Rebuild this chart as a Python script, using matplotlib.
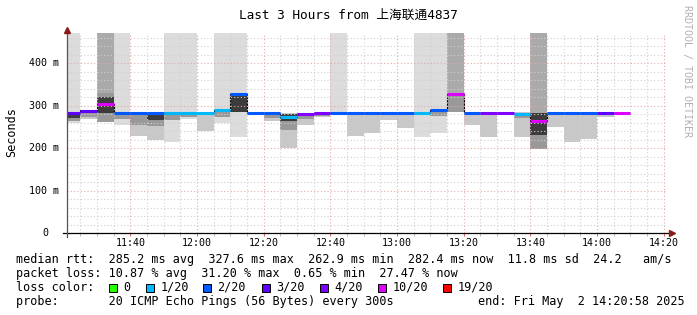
import numpy as np
import matplotlib
matplotlib.use("Agg")
import matplotlib.pyplot as plt
from matplotlib.patches import Rectangle
from matplotlib.ticker import MultipleLocator

MONO = ['DejaVu Sans Mono', 'Noto Sans CJK SC']
plt.rcParams['font.family'] = MONO

W, H = 697, 315
nan = np.nan
inf = np.inf

# time axis in minutes after 11:00, chart covers 11:20:58 .. 14:20:58
t_start = 20 + 58 / 60
t_end = 200 + 58 / 60
bin_end = [25, 30, 35, 40, 45, 50, 55, 60, 65, 70, 75, 80, 85, 90, 95, 100, 105,
           110, 115, 120, 125, 130, 135, 140, 145, 150, 155, 160, 165, 170, 175,
           180, 185, 190]

# median rtt per 5 min step (ms)
median = [282, 287, 303, 283, 283, 283, 282, 282, 282, 289, 328, 282, 282, 274,
          281, 283, 283, 283, 283, 283, 283, 282, 290, 328, 283, 283, 283, 279,
          263, 283, 283, 283, 283, 283]
# lost pings out of 20
lost = [3, 3, 6.2, 2, 2, 2, 1, 1, 1, 1, 2, 2, 2, 1, 4, 4, 2, 2, 2, 2, 2, 1, 2, 5,
        2, 4, 4, 1, 5, 2, 2, 2, 3, 5.5]

# smoke: outer band (inf = lost pings, drawn up to the top)
smoke_lo = [258, 268, 262, 254, 229, 220, 215, 269, 241, 259, 226, 278, 263, 200,
            255, 274, 277, 229, 235, 267, 247, 226, 235, 285, 255, 225, 277, 225,
            197, 250, 215, 221, 274, nan]
smoke_hi = [inf, 290, inf, inf, 284, 284, inf, inf, 283, inf, inf, 283, 283, 282,
            283, 284, inf, 284, 284, 284, 284, inf, inf, inf, 284, 284, 284, 284,
            inf, 284, 284, 284, 284, nan]
# inner band
mid_lo = [263, 272, 262, 268, 255, 252, 265, 272, nan, 272, nan, nan, 270, 243,
          268, 276, nan, nan, nan, nan, nan, nan, 275, 285, nan, nan, nan, 270,
          197, nan, nan, nan, nan, nan]
mid_hi = [284, 290, 329, 283, 283, 283, 283, 283, nan, 289, nan, nan, 282, 281,
          282, 283, nan, nan, nan, nan, nan, nan, 290, 329, nan, nan, nan, 282,
          282, nan, nan, nan, nan, nan]
# dense core
core_lo = [271, 282, 282, nan, nan, 267, nan, nan, nan, 284, 285, nan, nan, 263,
           nan, nan, nan, nan, nan, nan, nan, nan, nan, nan, nan, nan, nan, nan,
           230, nan, nan, nan, nan, nan]
core_hi = [282, 290, 321, nan, nan, 282, nan, nan, nan, 290, 327, nan, nan, 281,
           nan, nan, nan, nan, nan, nan, nan, nan, nan, nan, nan, nan, nan, nan,
           282, nan, nan, nan, nan, nan]

loss_thresh = [0, 1, 2, 3, 4, 10, 19]
loss_labels = ['0', '1/20', '2/20', '3/20', '4/20', '10/20', '19/20']
loss_colors = ['#26ff00', '#00b8ff', '#0059ff', '#5e00ff', '#7e00ff', '#dd00ff', '#ff0000']

y_top = 470.6

fig = plt.figure(figsize=(W / 100, H / 100), dpi=100)
ax = fig.add_axes([67 / W, (H - 233) / H, 600 / W, 200 / H])
ax.set_xlim(t_start, t_end)
ax.set_ylim(0, y_top)

ends = np.array(bin_end, dtype=float)
starts = np.concatenate([[t_start], ends[:-1]])
widths = ends - starts

lo = np.array(smoke_lo)
hi = np.array(smoke_hi)
tall = np.isinf(hi)
hi = np.where(tall, y_top, hi)
outer_col = []
for i in range(len(lo)):
    if tall[i]:
        outer_col.append('#aaaaaa' if lost[i] > 4 else '#dcdcdc')
    else:
        outer_col.append('#c8c8c8')
ax.bar(starts, hi - lo, bottom=lo, width=widths, align='edge', color=outer_col,
       linewidth=0, zorder=1)
mlo = np.array(mid_lo)
ax.bar(starts, np.array(mid_hi) - mlo, bottom=mlo, width=widths, align='edge',
       color='#999999', linewidth=0, zorder=1.1)
clo = np.array(core_lo)
ax.bar(starts, np.array(core_hi) - clo, bottom=clo, width=widths, align='edge',
       color='#3c3c3c', linewidth=0, zorder=1.2)

# median: thin black step, then loss coloured segments
edges = np.concatenate([starts, [ends[-1]]])
ax.stairs(median, edges, baseline=None, color='black', lw=0.8, zorder=2)
seg_col = []
for l in lost:
    k = next(i for i, t in enumerate(loss_thresh) if l <= t)
    seg_col.append(loss_colors[k])
ax.hlines(median, starts, ends, colors=seg_col, lw=2.2, zorder=3)

# grid
ax.xaxis.set_major_locator(MultipleLocator(20))
ax.xaxis.set_minor_locator(MultipleLocator(5))
ax.yaxis.set_major_locator(MultipleLocator(100))
ax.yaxis.set_minor_locator(MultipleLocator(20))
ax.set_axisbelow(False)
ax.grid(which='minor', color='#d0d0d0', lw=0.8, ls=(0, (1, 2)))
ax.grid(which='major', color='#e8a8a8', lw=0.8, ls=(0, (1, 2)))
for s in ax.spines.values():
    s.set_visible(False)

tick_t = [40, 60, 80, 100, 120, 140, 160, 180, 200]
ax.set_xticks(tick_t, ['%d:%02d' % (11 + t // 60, t % 60) for t in tick_t])
ax.tick_params(axis='x', which='major', length=2, width=0.7, color='#e06060',
               labelsize=7.2, pad=1.8, direction='out')
ax.tick_params(axis='x', which='minor', length=2, width=0.7, color='#bbbbbb')
ax.tick_params(axis='y', which='both', length=0, labelleft=False)
ytr = ax.get_yaxis_transform()
for v, lab in [(0, '0'), (100, '100 m'), (200, '200 m'), (300, '300 m'), (400, '400 m')]:
    xr = (48.5 - 67) / 600 if v == 0 else (59 - 67) / 600
    ax.text(xr, v, lab, transform=ytr, ha='right', va='center', fontsize=7.2)

# axis lines with arrows
ax.plot([-4 / 600, 1.0 + 5 / 600], [0, 0], color='black', lw=0.9,
        transform=ax.transAxes, clip_on=False, zorder=5)
ax.plot([1.0 + 5 / 600], [0], marker='>', ms=4, color='#8b1a1a',
        transform=ax.transAxes, clip_on=False, zorder=5)
ax.plot([0, 0], [-4 / 200, 1.0 + 2 / 200], color='#555555', lw=0.9,
        transform=ax.transAxes, clip_on=False, zorder=5)
ax.plot([0], [1.0 + 3 / 200], marker='^', ms=4, color='#8b1a1a',
        transform=ax.transAxes, clip_on=False, zorder=5)


def px(x, y):
    return x / W, 1 - y / H


fig.text(*px(348, 15), 'Last 3 Hours from 上海联通4837', ha='center', va='center',
         fontsize=9.2)
fig.text(*px(12, 132), 'Seconds', rotation=90, ha='center', va='center', fontsize=8.5)
fig.text(*px(687, 5), 'RRDTOOL / TOBI OETIKER', rotation=270, ha='center', va='top',
         fontsize=7.2, color='#b0b0b0')

fs = 8.5
fig.text(*px(16, 259.5), 'median rtt:  285.2 ms avg  327.6 ms max  262.9 ms min  '
         '282.4 ms now  11.8 ms sd  24.2   am/s', ha='left', va='center', fontsize=fs)
fig.text(*px(16, 273.5), 'packet loss: 10.87 % avg  31.20 % max  0.65 % min  27.47 % now',
         ha='left', va='center', fontsize=fs)
fig.text(*px(16, 287.5), 'loss color:', ha='left', va='center', fontsize=fs)
box_x = [109, 146, 203, 262, 320, 378, 443]
for bx, lab, c in zip(box_x, loss_labels, loss_colors):
    fig.add_artist(Rectangle(px(bx, 291.5), 8 / W, 8 / H, transform=fig.transFigure,
                             facecolor=c, edgecolor='black', lw=0.7))
    fig.text(*px(bx + 14.5, 287.5), lab, ha='left', va='center', fontsize=fs)
fig.text(*px(16, 301.5), 'probe:       20 ICMP Echo Pings (56 Bytes) every 300s',
         ha='left', va='center', fontsize=fs)
fig.text(*px(478, 301.5), 'end: Fri May  2 14:20:58 2025', ha='left', va='center',
         fontsize=fs)

fig.savefig('out.png', dpi=100)
